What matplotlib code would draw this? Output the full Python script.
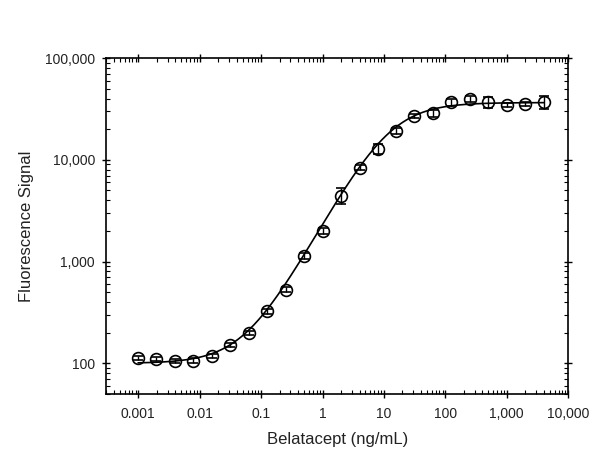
import matplotlib
matplotlib.use("Agg")
import matplotlib.pyplot as plt
import matplotlib.ticker as mticker
import numpy as np

plt.rcParams['font.family'] = ['Liberation Sans', 'DejaVu Sans']

# Concentrations (ng/mL)
conc = [0.001, 0.00195, 0.0039, 0.0078, 0.0156, 0.0313, 0.0625, 0.125, 0.25,
        0.5, 1.0, 2.0, 4.0, 8.0, 16.0, 31.25, 62.5, 125, 250, 500, 1000, 2000, 4000]
# Mean fluorescence signal
signal = [112, 110, 105, 106, 118, 152, 198, 324, 531,
          1140, 2020, 4440, 8350, 12800, 19300, 27000, 28800, 36900, 39500,
          36900, 34700, 35700, 36900]
# Error (SD)
err = [5, 5, 5, 6, 6, 8, 10, 18, 28,
       80, 140, 800, 450, 1500, 1200, 1500, 2400, 2800, 2800,
       4600, 1800, 1600, 5600]

# Axis tick labels
x_ticks = [0.001, 0.01, 0.1, 1, 10, 100, 1000, 10000]
x_labels = ['0.001', '0.01', '0.1', '1', '10', '100', '1,000', '10,000']
y_ticks = [100, 1000, 10000, 100000]
y_labels = ['100', '1,000', '10,000', '100,000']

# 4PL fit parameters
fit_bottom = 100
fit_top = 36500
fit_ec50 = 12.0
fit_hill = 1.1

fig = plt.figure(figsize=(6.0, 4.59), dpi=100)
ax = fig.add_axes([0.177, 0.1416, 0.77, 0.732])

xf = np.logspace(np.log10(conc[0]), np.log10(conc[-1]), 400)
yf = fit_bottom + (fit_top - fit_bottom) / (1 + (fit_ec50 / xf) ** fit_hill)
ax.plot(xf, yf, color='black', lw=1.2, zorder=2)

ax.errorbar(conc, signal, yerr=err, fmt='o', ms=8.5, mfc='none', mec='black',
            mew=1.2, ecolor='black', elinewidth=1.0, capsize=3.5, capthick=1.0, zorder=3)

ax.set_xscale('log')
ax.set_yscale('log')
ax.set_xlim(0.0003, 10000)
ax.set_ylim(50, 100000)

ax.xaxis.set_major_locator(mticker.FixedLocator(x_ticks))
ax.xaxis.set_major_formatter(mticker.FixedFormatter(x_labels))
ax.yaxis.set_major_locator(mticker.FixedLocator(y_ticks))
ax.yaxis.set_major_formatter(mticker.FixedFormatter(y_labels))
ax.xaxis.set_minor_locator(mticker.LogLocator(base=10, subs=np.arange(2, 10), numticks=20))
ax.yaxis.set_minor_locator(mticker.LogLocator(base=10, subs=np.arange(2, 10), numticks=20))
ax.xaxis.set_minor_formatter(mticker.NullFormatter())
ax.yaxis.set_minor_formatter(mticker.NullFormatter())

ax.tick_params(which='major', direction='inout', length=6, width=1.0, labelsize=10,
               top=True, right=True, labelcolor='#222222')
ax.tick_params(axis='x', which='major', pad=6)
ax.tick_params(axis='y', which='major', pad=5)
ax.tick_params(which='minor', direction='in', length=3, width=0.8, top=True, right=True)
for s in ax.spines.values():
    s.set_linewidth(1.2)

ax.set_xlabel('Belatacept (ng/mL)', fontsize=12, labelpad=8, color='#222222')
ax.set_ylabel('Fluorescence Signal', fontsize=12, labelpad=8, color='#222222')

fig.savefig('out.png', dpi=100)
